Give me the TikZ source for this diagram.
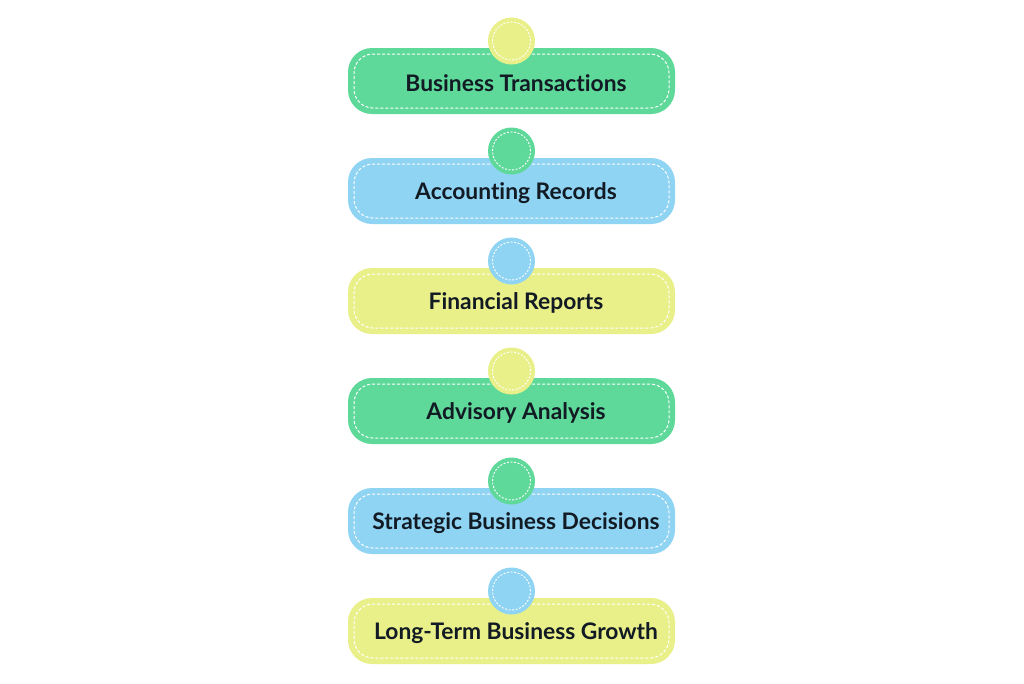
\documentclass[tikz,border=0pt]{standalone}
\usepackage{fontspec}
\setmainfont{Lato}[Ligatures={NoCommon}]
\definecolor{stepgreen}{HTML}{5FD99A}
\definecolor{stepblue}{HTML}{90D4F4}
\definecolor{stepyellow}{HTML}{E9F08A}
\definecolor{steptext}{HTML}{121A24}
\tikzset{
  stagebox/.style={rounded corners=24pt,minimum width=327pt,minimum height=66pt,inner sep=0pt},
  stageline/.style={draw=white,dash pattern=on 3pt off 2pt,line width=1pt,rounded corners=19pt,
    minimum width=315pt,minimum height=54pt,inner sep=0pt},
  knob/.style={circle,minimum size=47pt,inner sep=0pt},
  knobline/.style={circle,draw=white,dash pattern=on 2pt off 1.6pt,line width=0.9pt,minimum size=38pt,inner sep=0pt},
  stagetext/.style={font=\bfseries\fontsize{22.8}{26}\selectfont,text=steptext}
}
\begin{document}
\begin{tikzpicture}[x=1pt,y=-1pt]
  \useasboundingbox[fill=white] (0,0) rectangle (1024,683);
  \def\gap{110}   %distance between stages
  %STAGES: number / box colour / knob colour / label
  \foreach \i/\boxcol/\knobcol/\lab in {
      0/stepgreen/stepyellow/Business Transactions,
      1/stepblue/stepgreen/Accounting Records,
      2/stepyellow/stepblue/Financial Reports,
      3/stepgreen/stepyellow/Advisory Analysis,
      4/stepblue/stepgreen/Strategic Business Decisions,
      5/stepyellow/stepblue/Long-Term Business Growth}{
    \node[stagebox,fill=\boxcol] (box\i) at (511.5,81+\i*\gap) {};
    \node[stageline] (line\i) at (box\i.center) {};
    \node[stagetext] (label\i) at (516,83+\i*\gap) {\lab};
    \node[knob,fill=\knobcol] (knob\i) at (511.5,41+\i*\gap) {};
    \node[knobline] (ring\i) at (knob\i.center) {};
  } %end of stage loop
\end{tikzpicture}
\end{document}
